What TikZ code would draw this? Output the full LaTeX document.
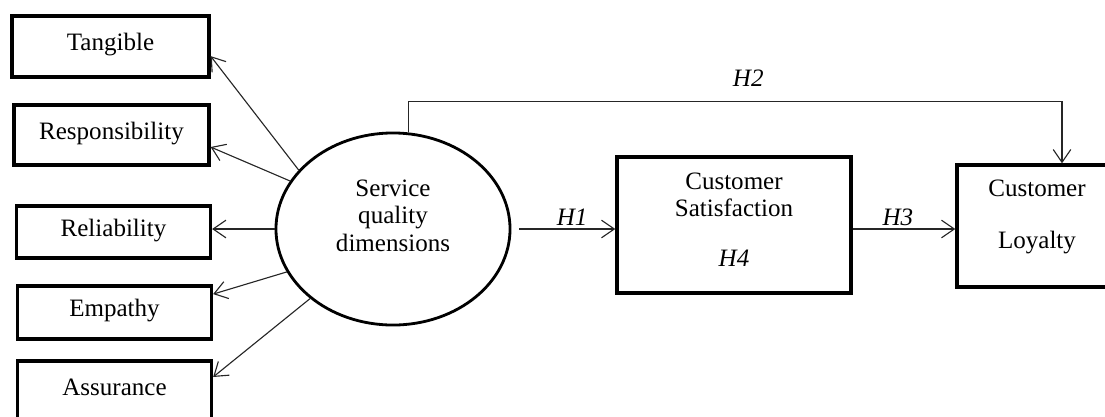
\documentclass[tikz,border=0pt]{standalone}
\usepackage{fontspec}
\setmainfont{Liberation Serif}
\usetikzlibrary{shapes.geometric,arrows.meta}

\begin{document}
\begin{tikzpicture}[x=0.025cm, y=-0.025cm,
		every node/.style={font=\fontsize{17.8pt}{19.5pt}\selectfont},
		dimbox/.style={draw, line width=2.3pt, minimum width=4.85cm, text height=0.42cm, text depth=0.2cm, inner sep=0pt},
		bigbox/.style={draw, line width=2.4pt, align=center, inner sep=0pt},
		link/.style={draw=black!85, line width=0.8pt, -{Straight Barb[length=3.2mm,width=4.4mm]}},
		hyp/.style={font=\fontsize{17.8pt}{19.5pt}\selectfont\itshape, inner sep=0.07cm}]
			\clip (0,0) rectangle (1105,416);
			\node[dimbox, minimum width=4.925cm, minimum height=1.525cm] (tangible) at (110.5,46.5) {Tangible};
			\node[dimbox, minimum width=4.875cm, minimum height=1.5cm] (responsibility) at (111.5,135) {Responsibility};
			\node[dimbox, minimum height=1.3cm] (reliability) at (113.5,232) {Reliability};
			\node[dimbox, minimum height=1.325cm] (empathy) at (114.5,312.5) {Empathy};
			\node[dimbox, minimum height=1.5cm] (assurance) at (114.5,391) {Assurance};
			\node[draw, ellipse, line width=2pt, minimum width=5.85cm, minimum height=4.8cm, inner sep=0pt, align=center] (sqd) at (393,229) {Service\\quality\\dimensions\\~};
			\node[bigbox, minimum width=5.85cm, minimum height=3.4cm] (satisfaction) at (734,225) {Customer\\Satisfaction\\[0.55cm]\textit{H4}\\[-0.4cm]~};
			\node[bigbox, minimum width=4cm, minimum height=3.05cm] (loyalty) at (1037,226) {Customer\\[0.615cm]Loyalty\\[-0.1cm]~};
			\draw[link] (sqd.148) -- ([yshift=-0.24cm]tangible.east);
			\draw[link] (sqd.155) -- ([yshift=-0.3cm]responsibility.east);
			\draw[link] (sqd.west) -- (sqd.west -| reliability.east);
			\draw[link] (sqd.202) -- ([yshift=0.46cm]empathy.east);
			\draw[link] (sqd.220) -- ([yshift=0.35cm]assurance.east);
			\draw[link] ([xshift=0.2cm]sqd.east) -- node[hyp, above, pos=0.55] (h1) {H1} (sqd.east -| satisfaction.west);
			\draw[link] (satisfaction.east |- sqd.east) -- node[hyp, above, pos=0.44] (h3) {H3} (loyalty.west |- sqd.east);
			\draw[link] (sqd.81) -- ++(0,-31) -| node[hyp, above=0.3cm, pos=0.26] (h2) {H2} ([xshift=0.625cm]loyalty.north);
		\end{tikzpicture}
\end{document}
